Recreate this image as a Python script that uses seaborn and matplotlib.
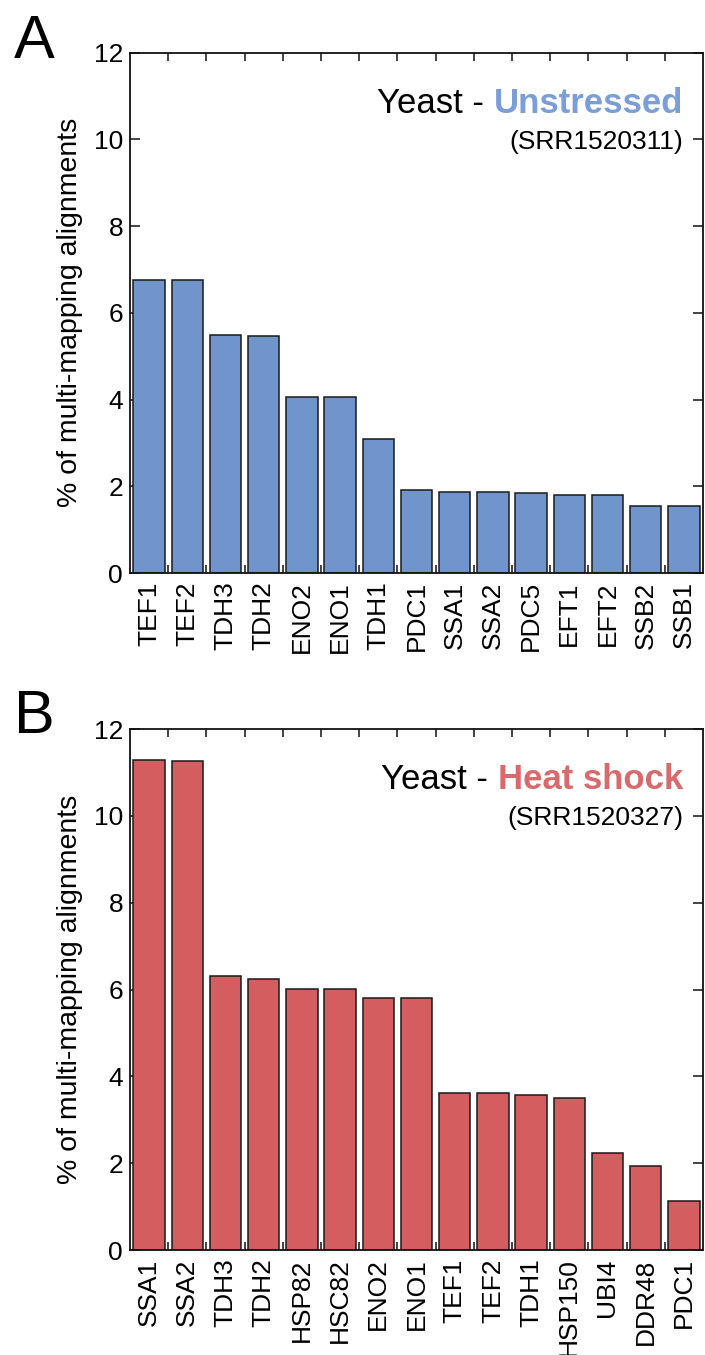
import numpy as np
import matplotlib
matplotlib.use("Agg")
import matplotlib.pyplot as plt
import seaborn as sns

# ---- data ----
genes_a = ["TEF1", "TEF2", "TDH3", "TDH2", "ENO2", "ENO1", "TDH1", "PDC1",
           "SSA1", "SSA2", "PDC5", "EFT1", "EFT2", "SSB2", "SSB1"]
values_a = [6.76, 6.76, 5.48, 5.46, 4.06, 4.06, 3.08, 1.91,
            1.87, 1.87, 1.85, 1.81, 1.81, 1.55, 1.55]

genes_b = ["SSA1", "SSA2", "TDH3", "TDH2", "HSP82", "HSC82", "ENO2", "ENO1",
           "TEF1", "TEF2", "TDH1", "HSP150", "UBI4", "DDR48", "PDC1"]
values_b = [11.29, 11.27, 6.30, 6.25, 6.01, 6.01, 5.80, 5.80,
            3.62, 3.62, 3.57, 3.51, 2.24, 1.94, 1.13]

yticks = [0, 2, 4, 6, 8, 10, 12]
ylabel = "% of multi-mapping alignments"

sns.set_style("white")
plt.rcParams["font.family"] = ["Liberation Sans", "DejaVu Sans"]
plt.rcParams["text.color"] = "black"
plt.rcParams["axes.labelcolor"] = "black"
plt.rcParams["xtick.color"] = "black"
plt.rcParams["ytick.color"] = "black"

BLUE = "#7094CC"
RED = "#D45D60"
BLUE_T = "#7B9ED8"
RED_T = "#D9696B"

fig = plt.figure(figsize=(7.05, 13.55), dpi=100)
W, H = 705, 1355


def make_axes(top_px, bottom_px, left_px=130, right_px=703):
    return fig.add_axes([left_px / W, 1 - bottom_px / H,
                         (right_px - left_px) / W, (bottom_px - top_px) / H])


ax_a = make_axes(52.7, 573)
ax_b = make_axes(729, 1250)


def draw_panel(ax, genes, values, color, cond, cond_color, srr, letter, letter_y):
    sns.barplot(x=genes, y=values, ax=ax, color=color, saturation=1,
                width=0.82, edgecolor="#1a1a1a", linewidth=1.1)
    ax.set_xlim(-0.5, len(genes) - 0.5)
    ax.set_ylim(0, 12)
    ax.set_yticks(yticks)
    ax.set_yticklabels([str(v) for v in yticks])
    ax.set_xlabel("")
    ax.set_ylabel(ylabel, fontsize=20.5, labelpad=8, color="black")
    ax.set_xticks(np.arange(0.5, len(genes) - 1, 1), minor=True)
    for s in ax.spines.values():
        s.set_visible(True)
        s.set_linewidth(1.3)
        s.set_color("#111111")
    ax.tick_params(axis="x", which="major", length=0, labelsize=19,
                   labelrotation=90, pad=6, labelcolor="black")
    ax.tick_params(axis="x", which="minor", direction="in", length=6,
                   width=1.1, top=True, bottom=True, color="#111111")
    ax.tick_params(axis="y", which="major", direction="in", length=7,
                   width=1.1, left=True, right=True, labelsize=19, pad=5,
                   color="#111111", labelcolor="black")
    ax.grid(False)
    t2 = ax.text(0.965, 0.885, cond, transform=ax.transAxes, ha="right",
                 va="baseline", color=cond_color, fontweight="bold", fontsize=25)
    ax.annotate("Yeast - ", xy=(0, 0), xycoords=t2, ha="right", va="bottom",
                fontsize=25, color="black")
    ax.text(0.965, 0.815, srr, transform=ax.transAxes, ha="right",
            va="baseline", fontsize=19, color="black")
    fig.text(14 / W, 1 - letter_y / H, letter, fontsize=44, ha="left",
             va="baseline", color="black")


draw_panel(ax_a, genes_a, values_a, BLUE, "Unstressed", BLUE_T,
           "(SRR1520311)", "A", 58)
draw_panel(ax_b, genes_b, values_b, RED, "Heat shock", RED_T,
           "(SRR1520327)", "B", 733)

fig.savefig("out.png", dpi=100)
